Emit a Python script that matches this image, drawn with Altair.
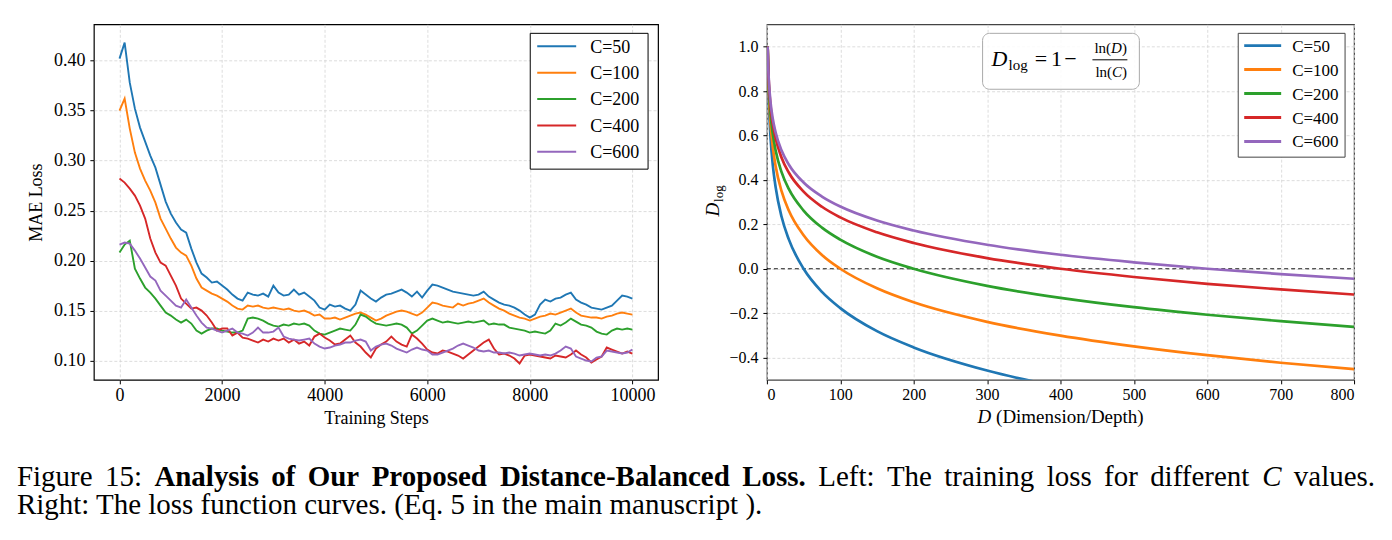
import altair as alt
import pandas as pd

FONT = "Liberation Serif"

# ---------------- data ----------------
series_labels = ["C=50", "C=100", "C=200", "C=400", "C=600"]
series_colors = ["#1f77b4", "#ff7f0e", "#2ca02c", "#d62728", "#9467bd"]

train_steps = list(range(0, 10001, 100))

loss_c50 = [0.402, 0.418, 0.378, 0.352, 0.333, 0.319, 0.305, 0.293, 0.276, 0.259,
            0.247, 0.238, 0.231, 0.228, 0.212, 0.198, 0.187, 0.183, 0.178, 0.179,
            0.175, 0.171, 0.166, 0.162, 0.160, 0.168, 0.166, 0.165, 0.167, 0.164,
            0.175, 0.168, 0.165, 0.166, 0.171, 0.166, 0.168, 0.164, 0.160, 0.153,
            0.151, 0.156, 0.154, 0.155, 0.152, 0.150, 0.156, 0.170, 0.166, 0.162,
            0.159, 0.163, 0.166, 0.167, 0.169, 0.171, 0.168, 0.164, 0.169, 0.163,
            0.170, 0.176, 0.175, 0.173, 0.171, 0.169, 0.168, 0.167, 0.166, 0.165,
            0.166, 0.169, 0.164, 0.161, 0.158, 0.156, 0.155, 0.153, 0.150, 0.146,
            0.143, 0.146, 0.156, 0.161, 0.159, 0.162, 0.163, 0.166, 0.168, 0.161,
            0.158, 0.156, 0.153, 0.152, 0.151, 0.153, 0.155, 0.160, 0.165, 0.164,
            0.162]
loss_c100 = [0.350, 0.362, 0.332, 0.308, 0.292, 0.280, 0.270, 0.258, 0.242, 0.232,
             0.222, 0.213, 0.208, 0.205, 0.195, 0.182, 0.173, 0.170, 0.167, 0.165,
             0.162, 0.159, 0.155, 0.152, 0.151, 0.155, 0.154, 0.155, 0.153, 0.152,
             0.153, 0.152, 0.151, 0.152, 0.150, 0.149, 0.150, 0.148, 0.145, 0.146,
             0.142, 0.142, 0.143, 0.141, 0.143, 0.145, 0.147, 0.148, 0.146, 0.143,
             0.140, 0.142, 0.145, 0.147, 0.149, 0.150, 0.149, 0.147, 0.145, 0.148,
             0.153, 0.158, 0.157, 0.155, 0.154, 0.153, 0.157, 0.155, 0.157, 0.158,
             0.160, 0.162, 0.158, 0.155, 0.152, 0.150, 0.147, 0.145, 0.143, 0.142,
             0.140, 0.142, 0.144, 0.145, 0.147, 0.146, 0.148, 0.150, 0.152, 0.148,
             0.145, 0.144, 0.143, 0.143, 0.142, 0.144, 0.145, 0.147, 0.148, 0.147,
             0.146]
loss_c200 = [0.208, 0.216, 0.220, 0.192, 0.182, 0.173, 0.168, 0.162, 0.155, 0.148,
             0.145, 0.141, 0.138, 0.141, 0.137, 0.130, 0.127, 0.130, 0.132, 0.132,
             0.130, 0.129, 0.128, 0.128, 0.130, 0.142, 0.143, 0.142, 0.140, 0.137,
             0.135, 0.134, 0.136, 0.135, 0.137, 0.136, 0.137, 0.135, 0.130, 0.127,
             0.126, 0.128, 0.130, 0.132, 0.131, 0.130, 0.136, 0.146, 0.144, 0.140,
             0.137, 0.136, 0.135, 0.136, 0.137, 0.136, 0.133, 0.127, 0.130, 0.135,
             0.140, 0.142, 0.140, 0.138, 0.139, 0.138, 0.137, 0.138, 0.139, 0.138,
             0.139, 0.140, 0.136, 0.137, 0.136, 0.136, 0.133, 0.132, 0.131, 0.130,
             0.128, 0.129, 0.128, 0.127, 0.130, 0.137, 0.135, 0.138, 0.142, 0.139,
             0.136, 0.135, 0.133, 0.129, 0.127, 0.126, 0.130, 0.132, 0.131, 0.132,
             0.131]
loss_c400 = [0.282, 0.278, 0.272, 0.265, 0.255, 0.242, 0.222, 0.208, 0.198, 0.195,
             0.185, 0.175, 0.162, 0.157, 0.152, 0.153, 0.150, 0.145, 0.138, 0.130,
             0.132, 0.132, 0.125, 0.128, 0.123, 0.122, 0.120, 0.118, 0.121, 0.119,
             0.122, 0.120, 0.122, 0.118, 0.121, 0.117, 0.119, 0.115, 0.124, 0.127,
             0.123, 0.120, 0.116, 0.117, 0.121, 0.125, 0.118, 0.114, 0.108, 0.103,
             0.112, 0.116, 0.119, 0.124, 0.119, 0.116, 0.114, 0.126, 0.122, 0.117,
             0.111, 0.108, 0.107, 0.110, 0.109, 0.107, 0.105, 0.102, 0.106, 0.110,
             0.114, 0.118, 0.121, 0.112, 0.106, 0.107, 0.105, 0.102, 0.097, 0.105,
             0.106, 0.105, 0.104, 0.103, 0.102, 0.105, 0.104, 0.103, 0.106, 0.110,
             0.106, 0.103, 0.098, 0.101, 0.104, 0.113, 0.111, 0.109, 0.107, 0.109,
             0.107]
loss_c600 = [0.216, 0.218, 0.217, 0.210, 0.202, 0.193, 0.184, 0.180, 0.170, 0.165,
             0.160, 0.155, 0.153, 0.161, 0.153, 0.145, 0.138, 0.133, 0.132, 0.130,
             0.128, 0.130, 0.132, 0.128, 0.127, 0.125, 0.128, 0.133, 0.128, 0.128,
             0.129, 0.133, 0.124, 0.122, 0.121, 0.120, 0.121, 0.122, 0.117, 0.114,
             0.112, 0.113, 0.115, 0.116, 0.118, 0.118, 0.120, 0.121, 0.119, 0.110,
             0.114, 0.116, 0.117, 0.115, 0.112, 0.110, 0.108, 0.111, 0.113, 0.111,
             0.110, 0.106, 0.106, 0.108, 0.110, 0.112, 0.115, 0.117, 0.115, 0.113,
             0.110, 0.109, 0.110, 0.108, 0.108, 0.107, 0.108, 0.107, 0.105, 0.106,
             0.107, 0.106, 0.105, 0.106, 0.105, 0.107, 0.110, 0.114, 0.112, 0.104,
             0.102, 0.100, 0.099, 0.103, 0.104, 0.110, 0.109, 0.108, 0.107, 0.108,
             0.111]

dim_D = [1, 2, 3, 5, 8, 12, 20, 30, 50, 75, 100, 150, 200, 300, 400, 500, 600, 700, 800]
dlog_c50 = [1.000, 0.823, 0.719, 0.589, 0.468, 0.365, 0.234, 0.131, 0.000, -0.104,
            -0.177, -0.281, -0.354, -0.458, -0.532, -0.589, -0.635, -0.675, -0.709]
dlog_c100 = [1.000, 0.849, 0.761, 0.651, 0.548, 0.460, 0.349, 0.261, 0.151, 0.062,
             0.000, -0.088, -0.151, -0.239, -0.301, -0.349, -0.389, -0.423, -0.452]
dlog_c200 = [1.000, 0.869, 0.793, 0.696, 0.608, 0.531, 0.435, 0.358, 0.262, 0.185,
             0.131, 0.054, 0.000, -0.077, -0.131, -0.173, -0.207, -0.236, -0.262]
dlog_c400 = [1.000, 0.884, 0.817, 0.731, 0.653, 0.585, 0.500, 0.432, 0.347, 0.279,
             0.231, 0.164, 0.116, 0.048, 0.000, -0.037, -0.068, -0.093, -0.116]
dlog_c600 = [1.000, 0.892, 0.828, 0.748, 0.675, 0.612, 0.532, 0.468, 0.388, 0.325,
             0.280, 0.217, 0.172, 0.108, 0.063, 0.029, 0.000, -0.024, -0.045]

loss_ticks = [0.10, 0.15, 0.20, 0.25, 0.30, 0.35, 0.40]
step_ticks = [0, 2000, 4000, 6000, 8000, 10000]
dlog_ticks = [-0.4, -0.2, 0.0, 0.2, 0.4, 0.6, 0.8, 1.0]
dim_ticks = [0, 100, 200, 300, 400, 500, 600, 700, 800]

caption_words = ["Figure", "15:", "Analysis", "of", "Our", "Proposed", "Distance-Balanced",
                 "Loss.", "Left:", "The", "training", "loss", "for", "different", "C", "values."]
caption_kinds = ["r", "r", "b", "b", "b", "b", "b", "b", "r", "r", "r", "r", "r", "r", "i", "r"]
caption_line2 = "Right: The loss function curves. (Eq. 5 in the main manuscript )."

# ---------------- layout constants ----------------
OXL, OY = 93, 23          # left plot origin (page px)
OXR = 767                 # right plot origin
LW, LH = 565, 356
RW, RH = 588, 356
CAP_SIZE = 29
caption_x = [16, 104.1, 153.6, 270.7, 307.2, 371.2, 499.6, 742.3, 818.4, 887.2,
             944.6, 1047.2, 1104.7, 1150.8, 1263.0, 1294.7]

one = pd.DataFrame({"k": [0]})


def axis(**kw):
    base = dict(labelFont=FONT, labelColor="black", tickColor="black", tickSize=4, tickWidth=1,
                domain=False, grid=True, gridColor="#d4d4d4", gridDash=[3, 2], gridWidth=0.8,
                titleFont=FONT, titleFontWeight="normal", titleColor="black")
    base.update(kw)
    return alt.Axis(**base)


def txt(s, x, y, size, ox, oy, weight="normal", style="normal", align="left",
        baseline="alphabetic", angle=0, color="black"):
    return alt.Chart(one).mark_text(
        font=FONT, fontSize=size, fontWeight=weight, fontStyle=style, align=align,
        baseline=baseline, angle=angle, color=color
    ).encode(x=alt.value(x - ox), y=alt.value(y - oy), text=alt.value(s))


def hline(x1, x2, y, ox, oy, color, width):
    return alt.Chart(one).mark_rule(color=color, strokeWidth=width).encode(
        x=alt.value(x1 - ox), x2=alt.value(x2 - ox), y=alt.value(y - oy))


def box(x1, x2, y1, y2, ox, oy, stroke, radius=0, opacity=1.0):
    return alt.Chart(one).mark_rect(fill="white", fillOpacity=opacity, stroke=stroke,
                                    strokeWidth=1, cornerRadius=radius).encode(
        x=alt.value(x1 - ox), x2=alt.value(x2 - ox), y=alt.value(y1 - oy), y2=alt.value(y2 - oy))


# ---------------- left panel ----------------
rows = []
for lab, vals in zip(series_labels, [loss_c50, loss_c100, loss_c200, loss_c400, loss_c600]):
    for s, v in zip(train_steps, vals):
        rows.append({"step": s, "loss": v, "series": lab})
df_loss = pd.DataFrame(rows)

anchor = alt.Chart(one).mark_rect(opacity=0).encode(
    x=alt.value(-OXL), x2=alt.value(1392 - OXL), y=alt.value(-OY), y2=alt.value(540 - OY))

left_lines = alt.Chart(df_loss).mark_line(strokeWidth=1.9, clip=True).encode(
    x=alt.X("step:Q", scale=alt.Scale(domain=[-500, 10500], nice=False, zero=False),
            axis=axis(values=step_ticks, format="d", labelFontSize=18, labelPadding=3,
                      title="Training Steps", titleFontSize=18, titlePadding=5)),
    y=alt.Y("loss:Q", scale=alt.Scale(domain=[0.0807, 0.4363], nice=False, zero=False),
            axis=axis(values=loss_ticks, format=".2f", labelFontSize=18, labelPadding=5,
                      title="MAE Loss", titleFontSize=18, titlePadding=8)),
    color=alt.Color("series:N", scale=alt.Scale(domain=series_labels, range=series_colors),
                    legend=None),
)

left_layers = [anchor, left_lines, box(530, 648, 32, 168, OXL, OY, "black")]
for i, (lab, col) in enumerate(zip(series_labels, series_colors)):
    yy = 45 + 26.4 * i
    left_layers.append(hline(537, 576, yy, OXL, OY, col, 2))
    left_layers.append(txt(lab, 590, yy + 6.3, 18, OXL, OY))

for w, k, xx in zip(caption_words, caption_kinds, caption_x):
    left_layers.append(txt(w, xx, 485, CAP_SIZE, OXL, OY,
                           weight="bold" if k == "b" else "normal",
                           style="italic" if k == "i" else "normal"))
left_layers.append(txt(caption_line2, 16, 513, CAP_SIZE, OXL, OY))

left = alt.layer(*left_layers).properties(
    width=LW, height=LH, view=alt.ViewBackground(stroke="black", strokeWidth=1.2))

# ---------------- right panel ----------------
rows = []
for lab, vals in zip(series_labels, [dlog_c50, dlog_c100, dlog_c200, dlog_c400, dlog_c600]):
    for d, v in zip(dim_D, vals):
        rows.append({"D": d, "dlog": v, "series": lab})
df_dlog = pd.DataFrame(rows)

rx = alt.X("D:Q", scale=alt.Scale(domain=[0, 800], nice=False, zero=False),
           axis=axis(values=dim_ticks, format="d", labelFontSize=16, labelPadding=3, title=None))
ry = alt.Y("dlog:Q", scale=alt.Scale(domain=[-0.5, 1.1], nice=False, zero=False),
           axis=axis(values=dlog_ticks, labelFontSize=16, labelPadding=5, title=None,
                     labelExpr="replace(format(datum.value, '.1f'), '-', '\u2212')"))

zero_line = alt.Chart(one).mark_rule(color="black", strokeWidth=0.9, strokeDash=[4, 3]).encode(
    y=alt.datum(0), x=alt.value(0), x2=alt.value(RW))

curves = alt.Chart(df_dlog).mark_line(strokeWidth=2.7, clip=True, interpolate="monotone").encode(
    x=rx, y=ry,
    color=alt.Color("series:N", scale=alt.Scale(domain=series_labels, range=series_colors),
                    legend=None),
)

right_layers = [zero_line, curves]

# formula box
right_layers += [
    box(983, 1140, 32, 88, OXR, OY, "#aaaaaa", radius=7, opacity=0.85),
    txt("D", 992, 64.3, 22, OXR, OY, style="italic"),
    txt("log", 1009, 68.5, 15, OXR, OY),
    txt("=", 1041.5, 64.3, 22, OXR, OY, align="center"),
    txt("1", 1057, 64.3, 22, OXR, OY, align="center"),
    txt("\u2212", 1071, 64.3, 22, OXR, OY, align="center"),
    txt("ln(", 1095, 52, 15, OXR, OY),
    txt("D", 1111.7, 52, 15, OXR, OY, style="italic"),
    txt(")", 1122.5, 52, 15, OXR, OY),
    hline(1093, 1128, 58.5, OXR, OY, "black", 1),
    txt("ln(", 1096, 75.5, 15, OXR, OY),
    txt("C", 1112.7, 75.5, 15, OXR, OY, style="italic"),
    txt(")", 1122.7, 75.5, 15, OXR, OY),
]

# legend
right_layers.append(box(1239, 1346, 32, 156, OXR, OY, "#444444"))
for i, (lab, col) in enumerate(zip(series_labels, series_colors)):
    yy = 44.3 + 24.0 * i
    right_layers.append(hline(1245, 1282, yy, OXR, OY, col, 3))
    right_layers.append(txt(lab, 1293, yy + 6, 17, OXR, OY))

# axis titles
right_layers += [
    txt("D", 719, 208.5, 19, OXR, OY, style="italic", align="center", angle=270),
    txt("log", 723, 192.5, 13, OXR, OY, align="center", angle=270),
    txt("D", 978, 422, 19, OXR, OY, style="italic"),
    txt("(Dimension/Depth)", 996.5, 422, 19, OXR, OY),
]

right = alt.layer(*right_layers).properties(
    width=RW, height=RH, view=alt.ViewBackground(stroke="#444444", strokeWidth=1.2))

chart = alt.hconcat(left, right, spacing=OXR - OXL - LW, bounds="flush").properties(
    padding=0, background="white"
).configure(font=FONT).configure_axis(labelFont=FONT, titleFont=FONT).configure_text(font=FONT)

chart.save("out.html", embed_options={"renderer": "svg", "actions": False})
